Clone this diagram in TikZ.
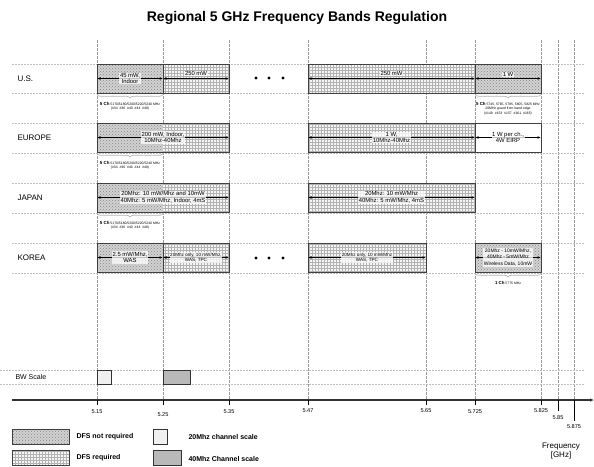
\documentclass[tikz,border=0pt]{standalone}
\usepackage{fontspec}
\setmainfont{Liberation Sans}
\usetikzlibrary{patterns,arrows.meta,decorations.pathreplacing,positioning}

\tikzset{
  band/.style={draw=black!75, line width=0.8pt, inner sep=0pt, outer sep=0pt,
    anchor=north west, minimum height=29pt},
  nodfs/.style={preaction={fill=gray!35}, pattern=crosshatch dots, pattern color=gray!95},
  dfs/.style={preaction={fill=gray!8}, pattern=grid, pattern color=gray!60},
  span/.style={{Latex[length=3.5pt,width=2.6pt]}-{Latex[length=3.5pt,width=2.6pt]}, line width=0.55pt},
  info/.style={font=\fontsize{5.9}{6.6}\selectfont, align=center, fill=white,
    fill opacity=0.75, text opacity=1, inner sep=0.6pt},
  small info/.style={info, font=\fontsize{4.6}{5.6}\selectfont},
  region/.style={anchor=west, font=\fontsize{8}{9}\selectfont},
  brc/.style={decorate, decoration={brace, mirror, amplitude=3.5pt}, gray!60, line width=0.7pt},
  chtxt/.style={anchor=north, align=center, inner sep=0pt, font=\fontsize{3.4}{4.4}\selectfont},
  vgrid/.style={gray!80, line width=0.5pt, dash pattern=on 2.5pt off 1.5pt},
  hgrid/.style={gray!50, line width=0.4pt, dash pattern=on 2pt off 1pt},
  ticklbl/.style={font=\fontsize{5.6}{6}\selectfont},
  legend/.style={anchor=west, font=\bfseries\fontsize{7}{8}\selectfont},
  scalebox/.style={draw=black!80, line width=0.8pt, inner sep=0pt, outer sep=0pt, anchor=north west}
}

\begin{document}
\begin{tikzpicture}[x=1pt, y=-1pt]
  \useasboundingbox (0,0) rectangle (594,466);

  \node[font=\bfseries\fontsize{14}{16}\selectfont] (title) at (297,18) {Regional 5 GHz Frequency Bands Regulation};

  % grid of the chart
  \foreach \x in {97,163,229,308,426,475,541,558,574}
    \draw[vgrid] (\x,40) -- (\x,400);
  \foreach \y in {64,93,123,153,183,213,243,273}
    \draw[hgrid] (12,\y) -- (585,\y);
  \foreach \y in {370,384}
    \draw[hgrid] (0,\y) -- (585,\y);

  % U.S.
  \node[region] (us) at (14,79) {U.S.};
  \node[band, nodfs, minimum width=66pt] (usa) at (97,64) {};
  \node[band, dfs, minimum width=66pt] (usb) at (163,64) {};
  \node[band, dfs, minimum width=167pt] (usc) at (308,64) {};
  \node[band, nodfs, minimum width=66pt] (usd) at (475,64) {};
  \foreach \b in {usa,usb,usc,usd}
    \draw[span] (\b.west) -- (\b.east);
  \node[info] at (usa.center) {45 mW,\\Indoor};
  \node[info] at ([yshift=5pt]usb.center) {250 mW};
  \node[info] at ([yshift=5pt]usc.center) {250 mW};
  \node[info] at ([yshift=4pt]usd.center) {1 W};
  \foreach \x in {256,269,283}
    \fill (\x,78) circle (1.7pt);
  \draw[brc] ([yshift=-1.5pt]usa.south west) -- ([yshift=-1.5pt]usa.south east);
  \node[chtxt] (usach) at ([yshift=-9pt]usa.south) {\textbf{\fontsize{4.4}{5}\selectfont 5 Ch} 5170/5180/5200/5220/5240 MHz\\(\#34\ \ \#36\ \ \#40\ \ \#44\ \ \#48)};
  \draw[brc] ([yshift=-1.5pt]usd.south west) -- ([yshift=-1.5pt]usd.south east);
  \node[chtxt] (usdch) at ([yshift=-9pt]usd.south) {\textbf{\fontsize{4.4}{5}\selectfont 5 Ch} 5745, 5765, 5785, 5805, 5825 MHz\\20MHz guard from band edge\\(\#149\ \ \#153\ \ \#157\ \ \#161\ \ \#165)};

  % Europe
  \node[region] (eu) at (14,138) {EUROPE};
  \node[band, nodfs, draw=none, minimum width=66pt] (eua1) at (97,123) {};
  \node[band, dfs, draw=none, minimum width=66pt] (eua2) at (163,123) {};
  \node[band, minimum width=132pt] (eua) at (97,123) {};
  \node[band, dfs, minimum width=167pt] (eub) at (308,123) {};
  \node[band, minimum width=66pt] (euc) at (475,123) {};
  \foreach \b in {eua,eub,euc}
    \draw[span] (\b.west) -- (\b.east);
  \node[info] at (eua.center) {200 mW, Indoor,\\10Mhz-40Mhz};
  \node[info] at (eub.center) {1 W,\\10Mhz-40Mhz};
  \node[info] at (euc.center) {1 W per ch.,\\4W EIRP};
  \draw[brc] ([yshift=-1.5pt]eua1.south west) -- ([yshift=-1.5pt]eua1.south east);
  \node[chtxt] (euach) at ([yshift=-9pt]eua1.south) {\textbf{\fontsize{4.4}{5}\selectfont 5 Ch} 5170/5180/5200/5220/5240 MHz\\(\#34\ \ \#36\ \ \#40\ \ \#44\ \ \#48)};

  % Japan
  \node[region] (jp) at (14,198) {JAPAN};
  \node[band, nodfs, draw=none, minimum width=66pt] (jpa1) at (97,183) {};
  \node[band, dfs, draw=none, minimum width=66pt] (jpa2) at (163,183) {};
  \node[band, minimum width=132pt] (jpa) at (97,183) {};
  \node[band, dfs, minimum width=167pt] (jpb) at (308,183) {};
  \foreach \b in {jpa,jpb}
    \draw[span] (\b.west) -- (\b.east);
  \node[info] at (jpa.center) {20Mhz: 10 mW/Mhz and 10mW\\40Mhz: 5 mW/Mhz, Indoor, 4mS};
  \node[info] at (jpb.center) {20Mhz: 10 mW/Mhz\\40Mhz: 5 mW/Mhz, 4mS};
  \draw[brc] ([yshift=-1.5pt]jpa1.south west) -- ([yshift=-1.5pt]jpa1.south east);
  \node[chtxt] (jpach) at ([yshift=-9pt]jpa1.south) {\textbf{\fontsize{4.4}{5}\selectfont 5 Ch} 5170/5180/5200/5220/5240 MHz\\(\#34\ \ \#36\ \ \#40\ \ \#44\ \ \#48)};

  % Korea
  \node[region] (kr) at (14,258) {KOREA};
  \node[band, nodfs, minimum width=66pt] (kra) at (97,243) {};
  \node[band, dfs, minimum width=66pt] (krb) at (163,243) {};
  \node[band, dfs, minimum width=118pt] (krc) at (308,243) {};
  \node[band, nodfs, line width=0.5pt, minimum width=66pt] (krd) at (475,243) {};
  \foreach \b in {kra,krb,krc,krd}
    \draw[span] (\b.west) -- (\b.east);
  \node[info] at (kra.center) {2.5 mW/Mhz,\\WAS};
  \node[small info] at (krb.center) {20Mhz only, 10 mW/Mhz,\\WAS, TPC};
  \node[small info] at (krc.center) {20Mhz only, 10 mW/Mhz\\WAS, TPC};
  \node[small info, font=\fontsize{5}{6.6}\selectfont] at (krd.center) {20Mhz - 10mW/Mhz,\\40Mhz - 5mW/Mhz\\Wireless Data, 10mW};
  \foreach \x in {256,269,283}
    \fill (\x,258) circle (1.7pt);
  \draw[brc] ([yshift=-1.5pt]krd.south west) -- ([yshift=-1.5pt]krd.south east);
  \node[chtxt] (krdch) at ([yshift=-9pt]krd.south) {\textbf{\fontsize{4.4}{5}\selectfont 1 Ch} 5775 MHz};

  % bandwidth scale
  \node[anchor=west, font=\fontsize{7}{8}\selectfont] (bw) at (12,377) {BW Scale};
  \node[scalebox, fill=gray!12, minimum width=14pt, minimum height=14pt] (bw20) at (97,370) {};
  \node[scalebox, fill=gray!55, minimum width=27pt, minimum height=14pt] (bw40) at (163,370) {};

  % frequency axis
  \coordinate (ax0) at (12,400);
  \coordinate (ax1) at (594,400);
  \draw[line width=1.1pt, black!80, -{Latex[length=4pt,width=3.5pt]}] (ax0) -- (ax1);
  \foreach \x/\y/\l in {97/412/5.15, 163/415/5.25, 229/412/5.35, 308/411/5.47, 426/411/5.65, 475/412/5.725, 541/411/5.825} {
    \draw[line width=0.6pt] (\x,400) -- (\x,405);
    \node[ticklbl] at (\x,\y) {\l};
  }
  \draw[line width=0.6pt] (558,400) -- (558,411);
  \node[ticklbl] at (558,418) {5.85};
  \draw[line width=0.6pt] (574,400) -- (574,421);
  \node[ticklbl] at (574,427) {5.875};
  \node[align=center, font=\fontsize{8}{9.5}\selectfont] (freq) at (561,451) {Frequency\\{[GHz]}};

  % legend
  \node[band, nodfs, minimum width=57pt, minimum height=15pt] (lgno) at (12,429) {};
  \node[legend, right=4pt of lgno] {DFS not required};
  \node[band, dfs, minimum width=57pt, minimum height=15pt] (lgdfs) at (12,450) {};
  \node[legend, right=4pt of lgdfs] {DFS required};
  \node[scalebox, fill=gray!12, minimum width=14pt, minimum height=15pt] (lg20) at (153,429) {};
  \node[legend] at (185,437) {20Mhz channel scale};
  \node[scalebox, fill=gray!55, minimum width=28pt, minimum height=15pt] (lg40) at (153,450) {};
  \node[legend] at (185,459) {40Mhz Channel scale};
\end{tikzpicture}
\end{document}
